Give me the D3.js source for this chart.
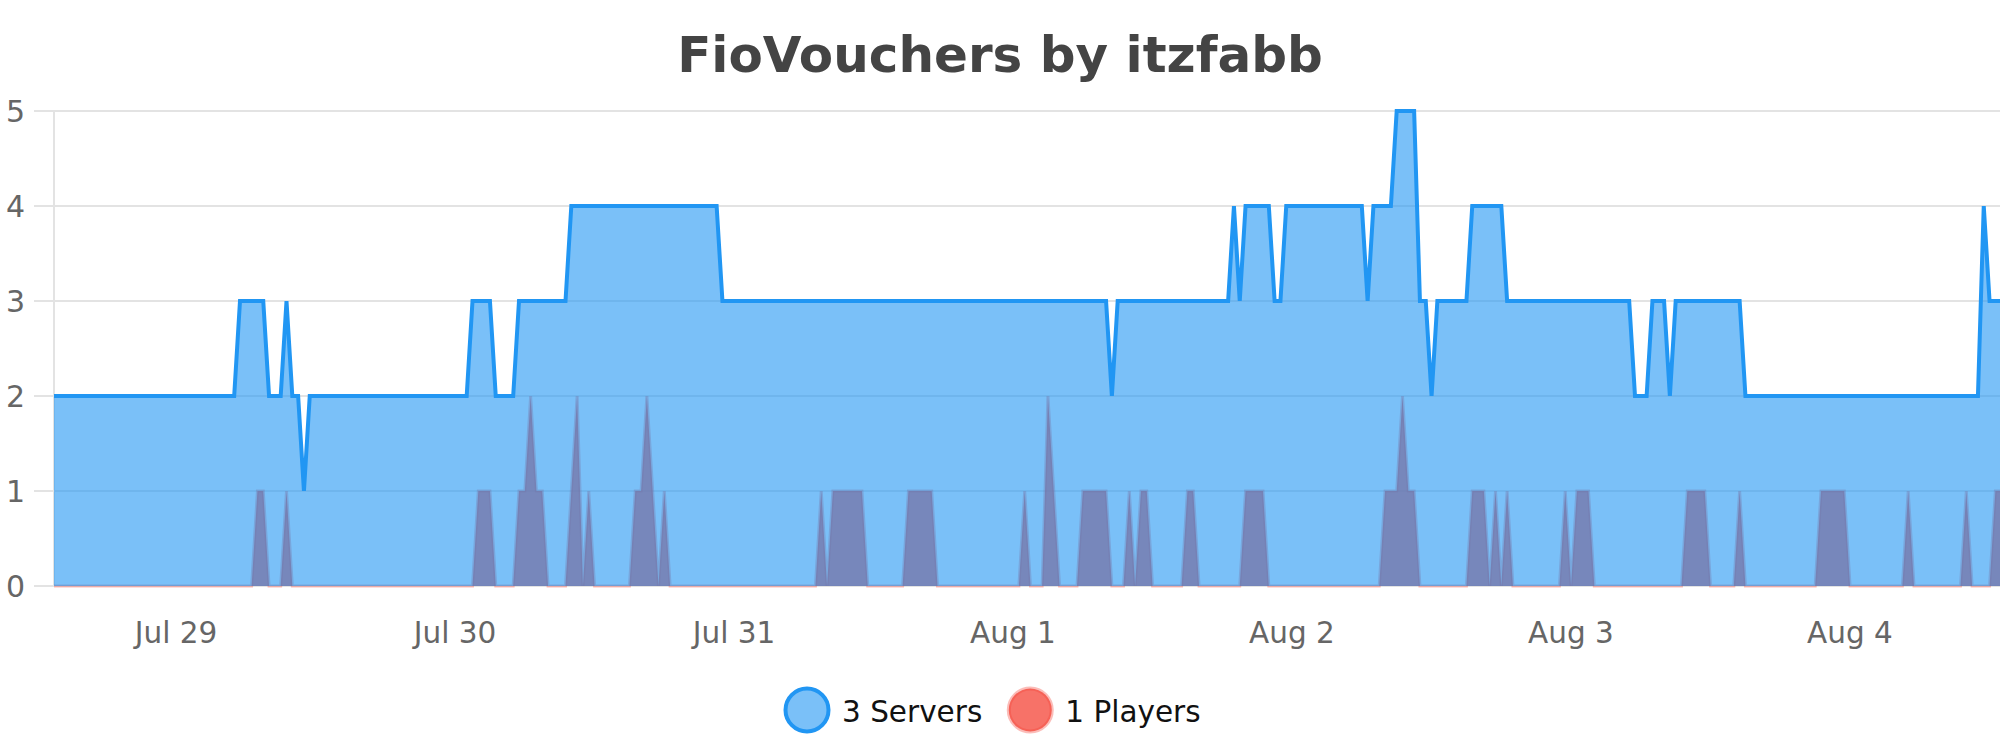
<!DOCTYPE html>
<html>
<head>
<meta charset="utf-8">
<script src="https://cdn.jsdelivr.net/npm/d3@7"></script>
<style>
  html, body { margin: 0; padding: 0; background: #fff; }
  svg { display: block; font-family: "DejaVu Sans", sans-serif; }
</style>
</head>
<body>
<div id="chart"></div>
<script>
// data: one sample every 30 minutes, stored as [value, how many samples]
const startTime = new Date(2024, 6, 28, 13, 33)
const stepMinutes = 30

const serverRuns = [
  [2, 32], [3, 5], [2, 3], [3, 1], [2, 2], [1, 1], [2, 28], [3, 4], [2, 4], [3, 9],
  [4, 26], [3, 67], [2, 1], [3, 20], [4, 1], [3, 1], [4, 5], [3, 2], [4, 14], [3, 1],
  [4, 4], [5, 4], [3, 2], [2, 1], [3, 6], [4, 6], [3, 22], [2, 3], [3, 3], [2, 1],
  [3, 12], [2, 41], [4, 1], [3, 5]
]

const playerRuns = [
  [0, 35], [1, 2], [0, 3], [1, 1], [0, 32], [1, 3], [0, 4], [1, 2], [2, 1], [1, 2],
  [0, 4], [1, 1], [2, 1], [0, 1], [1, 1], [0, 7], [1, 2], [2, 1], [1, 1], [0, 1],
  [1, 1], [0, 26], [1, 1], [0, 1], [1, 6], [0, 7], [1, 5], [0, 15], [1, 1], [0, 3],
  [2, 1], [1, 1], [0, 4], [1, 5], [0, 3], [1, 1], [0, 1], [1, 2], [0, 6], [1, 2],
  [0, 8], [1, 4], [0, 20], [1, 3], [2, 1], [1, 2], [0, 9], [1, 3], [0, 1], [1, 1],
  [0, 1], [1, 1], [0, 9], [1, 1], [0, 1], [1, 3], [0, 16], [1, 4], [0, 5], [1, 1],
  [0, 13], [1, 5], [0, 10], [1, 1], [0, 9], [1, 1], [0, 4], [1, 4]
]

const yTicks = [0, 1, 2, 3, 4, 5]
const seriesNames = ['3 Servers', '1 Players']
const seriesColors = ['#2196f3', '#f44336']
const chartTitle = 'FioVouchers by itzfabb'

function expandRuns(runs) {
  const out = []
  runs.forEach(([v, n]) => { for (let k = 0; k < n; k++) out.push(v) })
  return out
}

const servers = expandRuns(serverRuns)
const players = expandRuns(playerRuns)
const data = servers.map((s, i) => ({
  time: d3.timeMinute.offset(startTime, i * stepMinutes),
  servers: s,
  players: players[i]
}))

const width = 2000
const height = 750
const plotLeft = 54
const plotTop = 111
const plotBottom = 586
const dayWidth = 279

const svg = d3.select('#chart')
  .append('svg')
  .attr('width', width)
  .attr('height', height)

const t0 = data[0].time
const t1 = data[data.length - 1].time
const x = d3.scaleTime()
  .domain([t0, t1])
  .range([plotLeft, plotLeft + (t1 - t0) / 864e5 * dayWidth])

const y = d3.scaleLinear()
  .domain([0, 5])
  .range([plotBottom, plotTop])

// title
svg.append('text')
  .attr('x', width / 2)
  .attr('y', 72)
  .attr('text-anchor', 'middle')
  .attr('fill', '#444')
  .style('font-size', '50px')
  .style('font-weight', 'bold')
  .text(chartTitle)

// grid + y labels
const grid = svg.append('g')
yTicks.forEach(t => {
  grid.append('line')
    .attr('x1', 34).attr('x2', width)
    .attr('y1', y(t)).attr('y2', y(t))
    .attr('stroke', '#e3e3e3')
    .attr('stroke-width', 2)

  grid.append('text')
    .attr('x', 25)
    .attr('y', y(t))
    .attr('dy', '0.35em')
    .attr('text-anchor', 'end')
    .attr('fill', '#666')
    .style('font-size', '30px')
    .text(t)
})

grid.append('line')
  .attr('x1', plotLeft).attr('x2', plotLeft)
  .attr('y1', y(5)).attr('y2', y(0))
  .attr('stroke', '#e3e3e3')
  .attr('stroke-width', 2)

// x labels, one per day
const xAxis = d3.axisBottom(x)
  .ticks(d3.timeDay.every(1))
  .tickFormat(d3.timeFormat('%b %-d'))
  .tickSize(0)
  .tickPadding(0)

svg.append('g')
  .attr('transform', `translate(0, ${plotBottom + 57})`)
  .call(xAxis)
  .call(g => g.select('.domain').remove())
  .call(g => g.selectAll('text')
    .attr('dy', 0)
    .attr('fill', '#666')
    .style('font-family', '"DejaVu Sans", sans-serif')
    .style('font-size', '29.5px'))

// players first, servers over it
const playerArea = d3.area()
  .x(d => x(d.time))
  .y0(y(0))
  .y1(d => y(d.players))

const playerLine = d3.line()
  .x(d => x(d.time))
  .y(d => y(d.players))

svg.append('path')
  .datum(data)
  .attr('d', playerArea)
  .attr('fill', seriesColors[1])
  .attr('fill-opacity', 0.75)

svg.append('path')
  .datum(data)
  .attr('d', playerLine)
  .attr('fill', 'none')
  .attr('stroke', seriesColors[1])
  .attr('stroke-opacity', 0.35)
  .attr('stroke-width', 3)

const serverArea = d3.area()
  .x(d => x(d.time))
  .y0(y(0))
  .y1(d => y(d.servers))

const serverLine = d3.line()
  .x(d => x(d.time))
  .y(d => y(d.servers))

svg.append('path')
  .datum(data)
  .attr('d', serverArea)
  .attr('fill', seriesColors[0])
  .attr('fill-opacity', 0.6)

svg.append('path')
  .datum(data)
  .attr('d', serverLine)
  .attr('fill', 'none')
  .attr('stroke', seriesColors[0])
  .attr('stroke-width', 4)
  .attr('stroke-linejoin', 'miter')

// legend
const legend = svg.append('g').attr('transform', 'translate(807, 710)')
let lx = 0
seriesNames.forEach((name, i) => {
  const item = legend.append('g').attr('transform', `translate(${lx}, 0)`)
  item.append('circle')
    .attr('r', 21.5)
    .attr('fill', seriesColors[i])
    .attr('fill-opacity', i === 0 ? 0.6 : 0.75)
    .attr('stroke', seriesColors[i])
    .attr('stroke-opacity', i === 0 ? 1 : 0.35)
    .attr('stroke-width', 4)
  const label = item.append('text')
    .attr('x', 35)
    .attr('y', 11.5)
    .attr('fill', '#111')
    .style('font-size', '29.5px')
    .text(name)
  lx += 35 + label.node().getComputedTextLength() + 48
})
</script>
</body>
</html>
